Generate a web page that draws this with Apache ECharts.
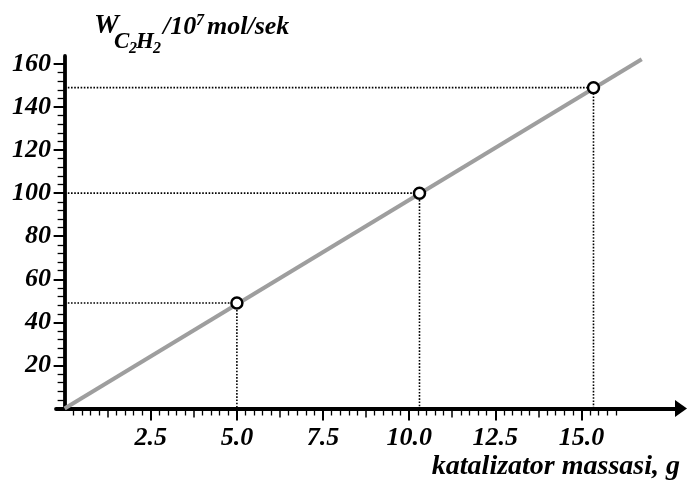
<!DOCTYPE html>
<html><head><meta charset="utf-8">
<script src="https://cdn.jsdelivr.net/npm/echarts@6/dist/echarts.min.js"></script>
<style>html,body{margin:0;padding:0;background:#fff}#c{width:688px;height:488px}</style>
</head><body><div id="c"></div>
<script>
// ---- data ----
const massX = [5.0, 10.3, 15.35];          // katalizator massasi, g
const rateY = [49, 100, 149];             // W C2H2 / 10^7 mol/sek
const fitX = [0, 16.75];                  // straight line ends
const fitY = [0, 162.2];
const xTickLabels = [2.5, 5.0, 7.5, 10.0, 12.5, 15.0];
const yTickLabels = [20, 40, 60, 80, 100, 120, 140, 160];

// minor tick positions (axis decoration)
const xMinor = [], xMedium = [];
for (let i = 1; i <= 64; i++) {
  const v = i * 0.25;
  if (i % 10 === 0) continue;
  if (i % 5 === 0) xMedium.push(v); else xMinor.push(v);
}
const yMinor = [];
for (let v = 4; v <= 160; v += 4) { if (v % 20 !== 0) yMinor.push(v); }

const FONT = '"Liberation Serif", "Times New Roman", serif';
const lblStyle = { fontFamily: FONT, fontStyle: 'italic', fontWeight: 'bold', fontSize: 26, color: '#000' };

const X_MIN = -0.25, X_MAX = 17.89, Y_MIN = 0, Y_MAX = 163.7;

function xAx(extra) {
  return Object.assign({
    type: 'value', min: X_MIN, max: X_MAX, position: 'bottom',
    axisLine: { show: false, onZero: true, onZeroAxisIndex: 0 },
    axisLabel: { show: false }, splitLine: { show: false }
  }, extra);
}
function yAx(extra) {
  return Object.assign({
    type: 'value', min: Y_MIN, max: Y_MAX, position: 'left',
    axisLine: { show: false, onZero: true, onZeroAxisIndex: 0 },
    axisLabel: { show: false }, splitLine: { show: false }
  }, extra);
}

const chart = echarts.init(document.getElementById('c'), null, { renderer: 'canvas' });

const guideSeries = massX.map((x, i) => ({
  type: 'line', xAxisIndex: 0, yAxisIndex: 0, symbol: 'none', silent: true, z: 2,
  data: [[0, rateY[i]], [x, rateY[i]], [x, 0]],
  lineStyle: { color: '#000', width: 1.6, type: 'dotted' }
}));

chart.setOption({
  animation: false,
  backgroundColor: '#fff',
  grid: { left: 56, right: 7, top: 56, bottom: 79.5, containLabel: false },
  xAxis: [
    xAx({
      axisLine: { show: true, onZero: true, onZeroAxisIndex: 0, symbol: ['none', 'triangle'], symbolSize: [17, 12],
                  lineStyle: { color: '#000', width: 3.8 } },
      axisTick: { show: true, customValues: xTickLabels, length: 12, lineStyle: { color: '#000', width: 2 } },
      axisLabel: Object.assign({ show: true, customValues: xTickLabels, margin: 17,
                                 formatter: v => Number(v).toFixed(1) }, lblStyle)
    }),
    xAx({ axisTick: { show: true, customValues: xMedium, length: 9, lineStyle: { color: '#000', width: 1.5 } } }),
    xAx({ axisTick: { show: true, customValues: xMinor, length: 7, lineStyle: { color: '#000', width: 1.3 } } })
  ],
  yAxis: [
    yAx({
      axisLine: { show: true, onZero: true, onZeroAxisIndex: 0, lineStyle: { color: '#000', width: 3.8 } },
      axisTick: { show: true, customValues: yTickLabels, length: 11, lineStyle: { color: '#000', width: 2 } },
      axisLabel: Object.assign({ show: true, customValues: yTickLabels, margin: 5,
                                 formatter: v => String(v) }, lblStyle)
    }),
    yAx({ axisTick: { show: true, customValues: yMinor, length: 7, lineStyle: { color: '#000', width: 1.3 } } })
  ],
  series: [
    {
      type: 'line', xAxisIndex: 0, yAxisIndex: 0, symbol: 'none', silent: true, z: 3,
      data: fitX.map((x, i) => [x, fitY[i]]),
      lineStyle: { color: '#9e9e9e', width: 4 }
    },
    ...guideSeries,
    {
      type: 'scatter', xAxisIndex: 0, yAxisIndex: 0, z: 5, symbol: 'circle', symbolSize: 11,
      data: massX.map((x, i) => [x, rateY[i]]),
      itemStyle: { color: '#fff', borderColor: '#000', borderWidth: 2.5, opacity: 1 }
    }
  ],
  graphic: [
    { type: 'text', left: 94, top: 12, style: { text: 'W', font: 'italic bold 28px ' + FONT, fill: '#000' } },
    { type: 'text', left: 114, top: 31, style: { text: 'C', font: 'italic bold 23px ' + FONT, fill: '#000' } },
    { type: 'text', left: 129, top: 41, style: { text: '2', font: 'italic bold 16px ' + FONT, fill: '#000' } },
    { type: 'text', left: 136, top: 31, style: { text: 'H', font: 'italic bold 23px ' + FONT, fill: '#000' } },
    { type: 'text', left: 153, top: 41, style: { text: '2', font: 'italic bold 16px ' + FONT, fill: '#000' } },
    { type: 'text', left: 163, top: 14, style: { text: '/10', font: 'italic bold 26px ' + FONT, fill: '#000' } },
    { type: 'text', left: 196, top: 13, style: { text: '7', font: 'italic bold 16px ' + FONT, fill: '#000' } },
    { type: 'text', left: 207, top: 14, style: { text: 'mol/sek', font: 'italic bold 26px ' + FONT, fill: '#000' } },
    { type: 'text', right: 8, top: 453, style: { text: 'katalizator massasi, g', font: 'italic bold 28px ' + FONT, fill: '#000' } }
  ]
});
</script>
</body></html>
